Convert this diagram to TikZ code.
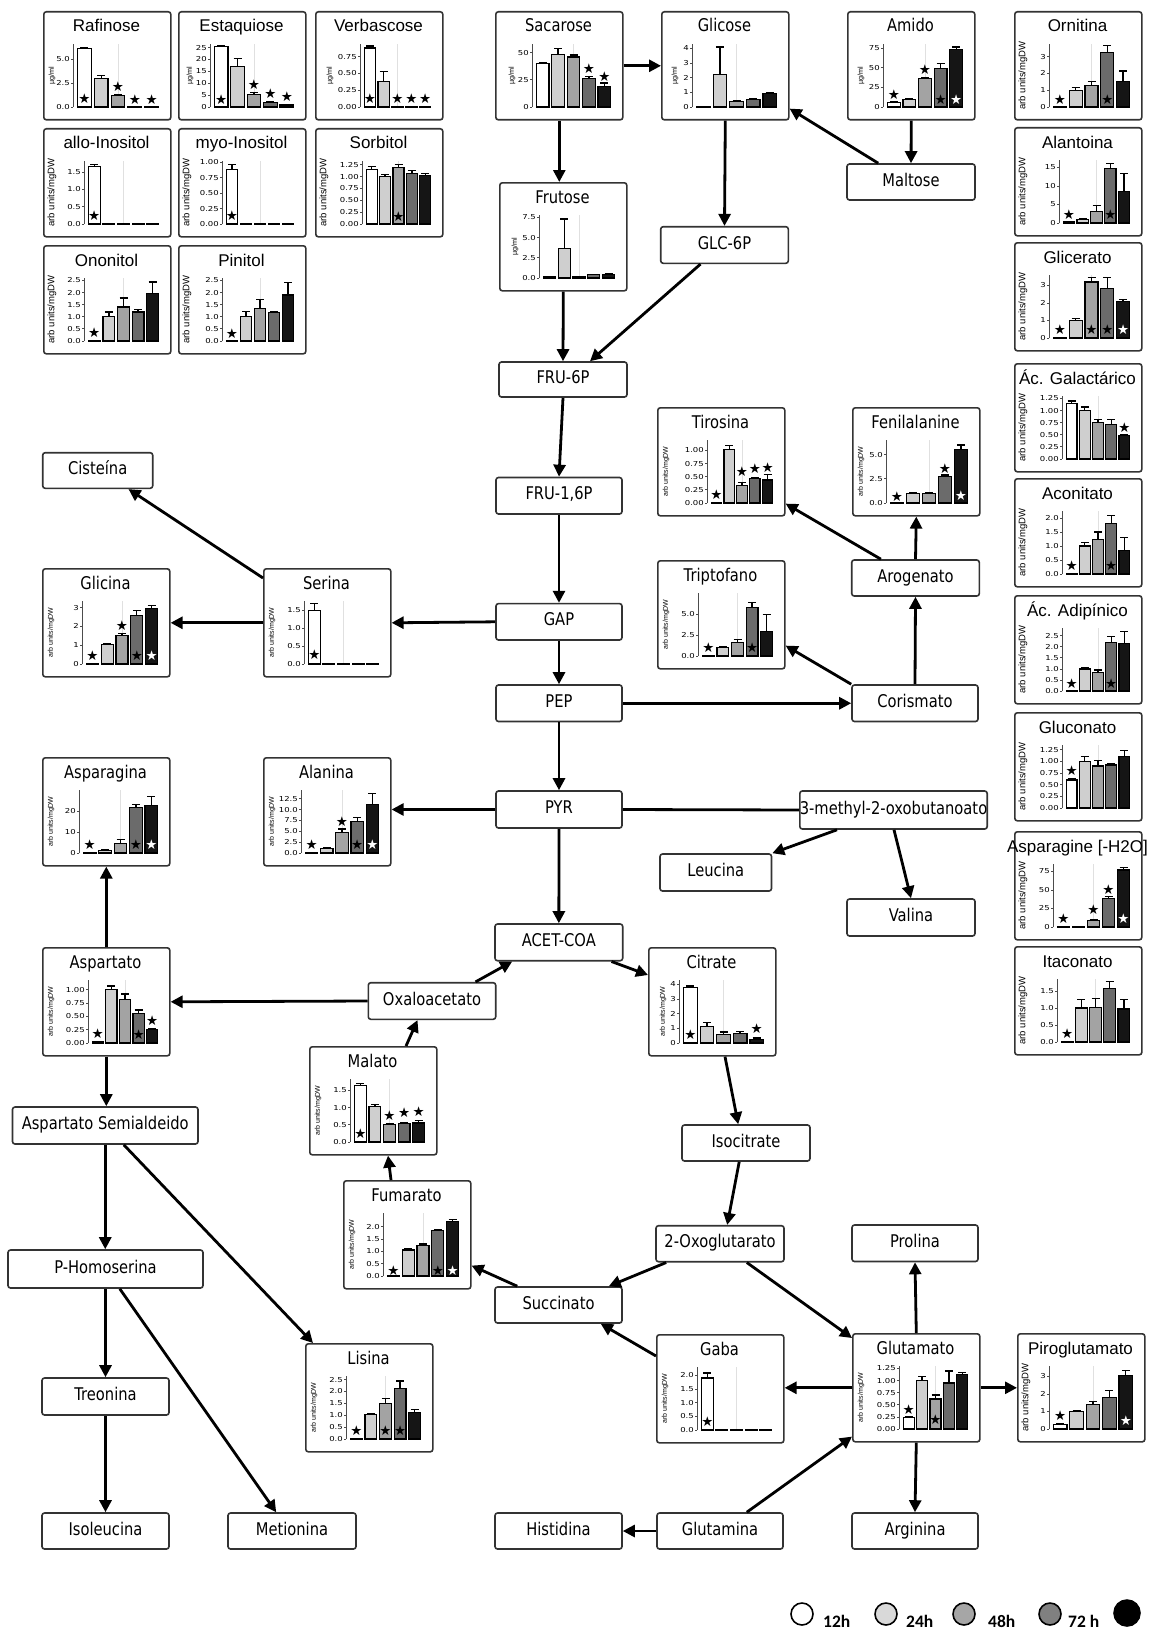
\documentclass[tikz,border=0pt]{standalone}
\usepackage{fontspec}
\setmainfont{Liberation Sans}
\newfontfamily\tahf[FakeStretch=0.84]{DejaVu Sans}
\newfontfamily\arf{Liberation Sans}
\newfontfamily\tickf[FakeStretch=1.25]{DejaVu Sans}
\newfontfamily\starf{DejaVu Sans}
\newfontfamily\legf{Carlito}
\usetikzlibrary{arrows.meta}
\definecolor{bc1}{HTML}{FFFFFF}
\definecolor{bc2}{HTML}{CFCFCF}
\definecolor{bc3}{HTML}{A3A3A3}
\definecolor{bc4}{HTML}{6B6B6B}
\definecolor{bc5}{HTML}{151515}
\definecolor{boxc}{HTML}{333333}
\newcommand\TT{\tahf\fontsize{17.5}{18}\selectfont}
\newcommand\TA{\arf\fontsize{17}{18}\selectfont}
\newcommand\BT{\tahf\fontsize{17.5}{18}\selectfont}
\tikzset{
 cbox/.style={draw=boxc, line width=1.6pt, rounded corners=2.5pt, fill=white, minimum width=127pt, minimum height=108pt, inner sep=0pt},
 pbox/.style={draw=boxc, line width=1.6pt, rounded corners=2.5pt, fill=white, inner sep=0pt, font=\BT, text height=13pt, text depth=5pt},
 arr/.style={line width=2.8pt, -{Triangle[length=12pt,width=12pt]}},
 plainl/.style={line width=2.8pt},
 gridl/.style={draw=black!12, line width=0.6pt},
 axisl/.style={draw=black!70, line width=0.8pt},
 barl/.style={draw=black, line width=1.2pt},
 errl/.style={draw=black, line width=1.3pt},
 tickn/.style={anchor=east, inner sep=0pt, font=\tickf\fontsize{6.8}{7}\selectfont},
 starn/.style={inner sep=0pt, font=\starf\fontsize{13.5}{13.5}\selectfont},
 ylab/.style={inner sep=0pt, rotate=90},
 titn/.style={anchor=base, inner sep=0pt},
 legc/.style={circle, draw=black, line width=1.6pt, minimum size=22pt, inner sep=0pt},
 legt/.style={anchor=base west, inner sep=0pt, font=\legf\bfseries\fontsize{17.5}{18}\selectfont},
}
\pgfkeys{/ch/a/.store in=\chA, /ch/yl/.store in=\chYL, /ch/yx/.store in=\chYX, /ch/ys/.store in=\chYS, /ch/tf/.store in=\chTF}
\newcommand\chart[9][]{%
\begingroup
\pgfkeys{/ch/.cd,a=40,yl={arb units/mgDW},yx=9,ys=9.5,tf=\TT,#1}%
\node[cbox,anchor=north west] (#2) at (#3,#4) {};
\pgfmathsetmacro\cXa{#3+\chA}%
\pgfmathsetmacro\cYb{#4+96}%
\pgfmathsetmacro\cSc{63/#6}%
\pgfmathsetmacro\cPp{(114-\chA)/5}%
\pgfmathsetmacro\cBx{\cXa+3}%
\draw[gridl] ({\cBx+2.5*\cPp},\cYb) -- ({\cBx+2.5*\cPp},{\cYb-63});
\draw[axisl] (\cXa,\cYb) -- (\cXa,{\cYb-63});
\foreach \tval/\tlab [count=\tk] in {#7} {%
 \draw[axisl] (\cXa,{\cYb-\tval*\cSc}) -- ++(-2,0);
 \node[tickn] (#2-tk\tk) at ({\cXa-3},{\cYb-\tval*\cSc}) {\tlab};}
\foreach \cBv/\cBe [count=\cBi] in {#8} {%
 \pgfmathsetmacro\cBl{\cBx+(\cBi-1)*\cPp+0.09*\cPp}%
 \pgfmathsetmacro\cBr{\cBl+0.82*\cPp}%
 \pgfmathsetmacro\cBt{\cYb-\cBv*\cSc}%
 \pgfmathsetmacro\cBc{\cBl+0.41*\cPp}%
 \edef\cFill{bc\cBi}%
 \ifdim\cBe pt>0pt
  \pgfmathsetmacro\cEt{\cBt-\cBe*\cSc}%
  \draw[errl] (\cBc,\cBt) -- (\cBc,\cEt) ({\cBc-4},\cEt) -- ({\cBc+4},\cEt);
 \fi
 \draw[barl,fill=\cFill] (\cBl,\cYb) rectangle (\cBr,\cBt);}
\def\cStars{#9}%
\ifx\cStars\empty\else
\foreach \cSi/\cSv/\cScol in {#9} {%
 \node[starn,text=\cScol] (#2-s\cSi) at ({\cBx+(\cSi-0.5)*\cPp},{\cYb-\cSv*\cSc}) {★};}
\fi
\node[ylab,font=\arf\fontsize{\chYS}{\chYS}\selectfont] (#2-yl) at ({#3+\chYX},{\cYb-31.5}) {\chYL};
\node[titn,font=\chTF] (#2-ti) at ({#3+63.5},{#4+21}) {#5};
\endgroup}
\newcommand\pb[6]{\node[pbox, minimum width={#4-#2}, minimum height={#5-#3}] (#1) at ({(#2+#4)/2},{(#3+#5)/2}) {#6};}
\begin{document}
\begin{tikzpicture}[x=1pt,y=-1pt]
\useasboundingbox (0,0) rectangle (1150,1635);
\fill[white] (0,0) rectangle (1150,1635);
% ---- top-left charts
\chart[a=30,yl=µg/ml,yx=9,ys=7.2,tf=\TA]{raf}{43}{11}{Rafinose}{6.6}{0/0.0,2.5/2.5,5/5.0}{6.1/.1,3.0/.3,1.2/.1,.05/0,.05/0}{1/.9/black,3/2.1/black,4/.75/black,5/.75/black}
\chart[a=32,yl=µg/ml,yx=12,ys=7.2,tf=\TA]{est}{178}{11}{Estaquiose}{26.5}{0/0,5/5,10/10,15/15,20/20,25/25}{25.5/.4,17/3.5,5.2/.8,2.0/.2,.8/.2}{1/3.3/black,3/9.2/black,4/5.6/black,5/4.2/black}
\chart[a=45,yl=µg/ml,yx=15,ys=7.2,tf=\TA]{ver}{315}{11}{Verbascose}{.94}{0/0.00,.25/0.25,.5/0.50,.75/0.75}{.88/.03,.38/.15,.01/0,.01/0,.01/0}{1/.12/black,3/.12/black,4/.12/black,5/.12/black}
\chart[a=41,tf=\TA]{allo}{43}{128}{allo-Inositol}{1.82}{0/0.0,.5/0.5,1/1.0,1.5/1.5}{1.65/.07,.01/0,.01/0,.01/0,.01/0}{1/.25/black}
\chart[a=44,tf=\TA]{myo}{178}{128}{myo-Inositol}{1.02}{0/0.00,.25/0.25,.5/0.50,.75/0.75,1/1.00}{.88/.08,.01/0,.01/0,.01/0,.01/0}{1/.13/black}
\chart[a=47,tf=\TA]{sor}{315}{128}{Sorbitol}{1.33}{0/0.00,.25/0.25,.5/0.50,.75/0.75,1/1.00,1.25/1.25}{1.15/.07,1.0/.05,1.2/.06,1.06/.07,1.02/.05}{3/.15/black}
\chart[a=41,tf=\TA]{ono}{43}{245}{Ononitol}{2.6}{0/0.0,.5/0.5,1/1.0,1.5/1.5,2/2.0,2.5/2.5}{.02/0,1.0/.2,1.4/.38,1.2/.1,1.95/.48}{1/.35/black}
\chart[a=44,tf=\TA]{pin}{178}{245}{Pinitol}{2.6}{0/0.0,.5/0.5,1/1.0,1.5/1.5,2/2.0,2.5/2.5}{.02/0,1.02/.2,1.33/.38,1.17/.05,1.9/.5}{1/.32/black}
% ---- middle top
\chart[a=37,yl=µg/ml,yx=17,ys=7.2]{sac}{495}{11}{Sacarose}{58}{0/0,25/25,50/50}{40/1,48/6,46/2,26/2,19/3}{4/35/black,5/28/black}
\chart[a=31,yl=µg/ml,yx=14,ys=7.2]{glc}{661}{11}{Glicose}{4.3}{0/0,1/1,2/2,3/3,4/4}{.02/0,2.2/1.9,.35/.05,.5/.05,.9/.08}{}
\chart[a=36,yl=µg/ml,yx=14,ys=7.2]{ami}{847}{11}{Amido}{80}{0/0,25/25,50/50,75/75}{6/1,10/1,36/1.5,49/6,73/3}{1/16/black,3/47/black,4/9/black,5/9/white}
\chart[a=40,yl=µg/ml,yx=16,ys=7.2]{fru}{499}{182}{Frutose}{7.8}{0/0.0,2.5/2.5,5/5.0,7.5/7.5}{.2/0,3.7/3.6,.2/0,.4/.05,.45/.05}{}
% ---- right column
\chart[a=35,tf=\TA]{orn}{1014}{11}{Ornitina}{3.75}{0/0,1/1,2/2,3/3}{.02/0,1.0/.15,1.3/.2,3.25/.4,1.5/.65}{1/.45/black,4/.45/black}
\chart[a=45,tf=\TA]{alt}{1014}{127}{Alantoina}{17}{0/0,5/5,10/10,15/15}{.3/0,1.0/.2,3.0/1.8,14.7/1.3,8.5/4.8}{1/2.2/black,4/2.2/black}
\chart[a=35,tf=\TA]{glic}{1014}{242}{Glicerato}{3.6}{0/0,1/1,2/2,3/3}{.02/0,1.0/.12,3.2/.25,2.85/.6,2.1/.12}{1/.5/black,3/.5/black,4/.5/black,5/.5/white}
\chart[a=48,tf=\TA]{gal}{1014}{363}{Ác. Galactárico}{1.3}{0/0.00,.25/0.25,.5/0.50,.75/0.75,1/1.00,1.25/1.25}{1.15/.05,1.0/.07,.75/.06,.72/.1,.49/.02}{5/.65/black}
\chart[a=48,tf=\TA]{aco}{1014}{478}{Aconitato}{2.25}{0/0.0,.5/0.5,1/1.0,1.5/1.5,2/2.0}{.02/0,1.0/.12,1.22/.28,1.8/.28,.85/.45}{1/.3/black,4/.3/black}
\chart[a=48,tf=\TA]{adi}{1014}{595}{Ác. Adipínico}{2.85}{0/0.0,.5/0.5,1/1.0,1.5/1.5,2/2.0,2.5/2.5}{.02/0,1.0/.06,.85/.1,2.2/.25,2.15/.55}{1/.35/black,4/.35/black}
\chart[a=48,tf=\TA]{gcn}{1014}{712}{Gluconato}{1.35}{0/0.00,.25/0.25,.5/0.50,.75/0.75,1/1.00,1.25/1.25}{.6/.02,1.0/.1,.9/.12,.92/.03,1.1/.13}{1/.8/black}
\chart[a=39,tf=\TA]{ash}{1014}{831}{Asparagine [-H2O]}{85}{0/0,25/25,50/50,75/75}{.5/0,.5/0,9/1,39/2,77/3}{1/11/black,3/23/black,4/50/black,5/11/white}
\chart[a=43,tf=\TA]{ita}{1014}{946}{Itaconato}{1.85}{0/0.0,.5/0.5,1/1.0,1.5/1.5}{.02/0,1.0/.25,1.02/.25,1.57/.2,.97/.28}{1/.25/black}
% ---- middle charts
\chart[a=50,ys=7]{tir}{657}{407}{Tirosina}{1.2}{0/0.00,.25/0.25,.5/0.50,.75/0.75,1/1.00}{.01/0,1.02/.08,.33/.06,.47/.02,.44/.1}{1/.15/black,3/.6/black,4/.65/black,5/.68/black}
\chart[a=34,ys=7]{fen}{852}{407}{Fenilalanine}{6.5}{0/0.0,2.5/2.5,5/5.0}{.05/0,1.0/.05,1.0/.05,2.7/.2,5.5/.5}{1/.7/black,4/3.5/black,5/.8/white}
\chart[a=41,ys=7]{tri}{657}{560}{Triptofano}{7.5}{0/0.0,2.5/2.5,5/5.0}{.05/0,1.05/.1,1.6/.4,5.8/.6,2.9/2.0}{1/1.0/black,4/1.0/black}
\chart[a=40,ys=7]{gly}{42}{568}{Glicina}{3.35}{0/0,1/1,2/2,3/3}{.02/0,1.05/.04,1.5/.12,2.6/.25,2.95/.15}{1/.45/black,3/2.05/black,4/.45/black,5/.45/white}
\chart[a=41,ys=7]{ser}{263}{568}{Serina}{1.75}{0/0.0,.5/0.5,1/1.0,1.5/1.5}{1.48/.2,.01/0,.01/0,.01/0,.01/0}{1/.25/black}
\chart[a=37,ys=7]{asg}{42}{757}{Asparagina}{30}{0/0,10/10,20/20}{.2/0,1.3/.3,4.5/2,21.5/1.5,22.5/4.5}{1/4/black,4/4/black,5/4/white}
\chart[a=38,ys=7]{ala}{263}{757}{Alanina}{14.5}{0/0.0,2.5/2.5,5/5.0,7.5/7.5,10/10.0,12.5/12.5}{.1/0,1.1/.2,4.7/.8,7.2/1,11.2/2.5}{1/2/black,3/7.3/black,4/2/black,5/2/white}
\chart[a=46,ys=7]{asp}{42}{947}{Aspartato}{1.18}{0/0.00,.25/0.25,.5/0.50,.75/0.75,1/1.00}{.03/0,1.0/.07,.82/.1,.56/.06,.25/.01}{1/.18/black,4/.15/black,5/.42/black}
\chart[a=31,yx=15,ys=7]{cit}{648}{947}{Citrate}{4.3}{0/0,1/1,2/2,3/3,4/4}{3.8/.1,1.1/.3,.6/.15,.65/.15,.25/.1}{1/.6/black,5/.95/black}
\chart[a=41,ys=7]{mala}{309}{1046}{Malato}{1.83}{0/0.0,.5/0.5,1/1.0,1.5/1.5}{1.65/.05,1.02/.07,.5/.02,.53/.02,.55/.07}{1/.25/black,3/.77/black,4/.85/black,5/.88/black}
\chart[a=40,ys=7]{fum}{343}{1180}{Fumarato}{2.55}{0/0.0,.5/0.5,1/1.0,1.5/1.5,2/2.0}{.01/0,1.05/.05,1.22/.08,1.85/.04,2.2/.1}{1/.2/black,4/.2/black,5/.2/white}
\chart[a=41,ys=7]{lis}{305}{1343}{Lisina}{2.65}{0/0.0,.5/0.5,1/1.0,1.5/1.5,2/2.0,2.5/2.5}{.02/0,1.02/.06,1.5/.2,2.12/.32,1.1/.15}{1/.35/black,3/.35/black,4/.35/black}
\chart[a=41,ys=7]{gab}{656}{1334}{Gaba}{2.3}{0/0.0,.5/0.5,1/1.0,1.5/1.5,2/2.0}{1.9/.18,.01/0,.01/0,.01/0,.01/0}{1/.3/black}
\chart[a=47,ys=7]{glu}{852}{1333}{Glutamato}{1.3}{0/0.00,.25/0.25,.5/0.50,.75/0.75,1/1.00,1.25/1.25}{.23/.02,1.0/.08,.62/.08,.95/.25,1.12/.05}{1/.4/black,3/.2/black}
\chart[a=32,tf=\TA]{pir}{1017}{1333}{Piroglutamato}{3.6}{0/0,1/1,2/2,3/3}{.25/.03,1.0/.05,1.42/.15,1.8/.4,3.05/.3}{1/.75/black,5/.45/white}
% ---- plain boxes
\pb{cis}{42.7}{452.7}{152.7}{488.3}{Cisteína}
\pb{malt}{847}{164}{975}{200}{Maltose}
\pb{g6p}{660.7}{226.7}{788.3}{263.3}{GLC-6P}
\pb{f6p}{499}{362}{627}{397}{FRU-6P}
\pb{f16p}{496}{477.5}{622}{514}{FRU-1,6P}
\pb{gap}{496}{603.6}{622}{640}{GAP}
\pb{pep}{496}{685}{622}{721.5}{PEP}
\pb{pyr}{496}{791}{622}{828}{PYR}
\pb{acc}{495}{924}{622.7}{960.7}{ACET-COA}
\pb{oxa}{368.3}{982.7}{495.7}{1019.3}{Oxaloacetato}
\pb{iso}{682}{1125}{810}{1161}{Isocitrate}
\pb{oxg}{656}{1225.7}{784}{1261.7}{2-Oxoglutarato}
\pb{suc}{495}{1287}{622}{1323}{Succinato}
\pb{pro}{852}{1225}{978}{1261.5}{Prolina}
\pb{gln}{657}{1513}{783}{1549}{Glutamina}
\pb{his}{495}{1513}{622}{1549}{Histidina}
\pb{arg}{852}{1513}{978}{1549}{Arginina}
\pb{ile}{42}{1513}{169}{1549}{Isoleucina}
\pb{met}{228}{1513}{356}{1549}{Metionina}
\pb{tre}{42}{1378}{169}{1415}{Treonina}
\pb{phs}{8}{1250}{203}{1288}{P-Homoserina}
\pb{asd}{12.5}{1107}{198}{1144}{Aspartato Semialdeido}
\pb{aro}{851.7}{560}{979.3}{596}{Arogenato}
\pb{cor}{852}{685}{978}{721.5}{Corismato}
\pb{m3}{801}{791}{986}{829}{3-methyl-2-oxobutanoato}
\pb{leu}{660}{854}{771.5}{891}{Leucina}
\pb{val}{847}{899}{975}{936}{Valina}
% ---- connectors
\draw[arr] (sac.east) -- (glc.west);
\draw[arr] (sac.south) -- (sac.south |- fru.north);
\draw[arr] (glc.south) -- (g6p.north);
\draw[arr] (ami.south) -- (malt.north);
\draw[arr] ([xshift=32pt]malt.north west) -- ([yshift=12pt]glc.south east);
\draw[arr] (fru.south) -- (f6p.north);
\draw[arr] ([xshift=-24pt]g6p.south) -- ([xshift=27pt]f6p.north);
\draw[arr] (f6p.south) -- (f16p.north);
\draw[arr] (f16p.south) -- (gap.north);
\draw[arr] (gap.west) -- (ser.east);
\draw[arr] (ser.west) -- (gly.east);
\draw[arr] ([yshift=-10pt]ser.north west) -- ([xshift=-25pt]cis.south east);
\draw[arr] (gap.south) -- (pep.north);
\draw[arr] (pep.east) -- (cor.west);
\draw[arr] (cor.north) -- (aro.south);
\draw[arr] (aro.north) -- (fen.south);
\draw[arr] ([xshift=30pt]aro.north west) -- ([yshift=13pt]tir.south east);
\draw[arr] (cor.north west) -- ([yshift=24pt]tri.south east);
\draw[arr] (pep.south) -- (pyr.north);
\draw[arr] (pyr.west) -- (pyr.west -| ala.east);
\draw[plainl] (pyr.east) -- (m3.west);
\draw[arr] ([xshift=38pt]m3.south west) -- (leu.north east);
\draw[arr] ([xshift=95pt]m3.south west) -- (val.north);
\draw[arr] (pyr.south) -- (acc.north);
\draw[arr] ([xshift=-12pt]acc.south east) -- ([yshift=-28pt]cit.north west);
\draw[arr] ([xshift=-21pt]oxa.north east) -- ([xshift=18pt]acc.south west);
\draw[arr] (oxa.west) -- (asp.east);
\draw[arr] ([xshift=97pt]mala.north west) -- ([xshift=50pt]oxa.south west);
\draw[arr] ([xshift=48pt]fum.north west) -- ([xshift=79pt]mala.south west);
\draw[arr] ([xshift=23pt]suc.north west) -- ([yshift=24pt]fum.south east);
\draw[arr] ([xshift=77pt]cit.south west) -- ([xshift=57pt]iso.north west);
\draw[arr] ([xshift=58pt]iso.south west) -- ([xshift=72pt]oxg.north west);
\draw[arr] ([xshift=11pt]oxg.south west) -- ([xshift=-14pt]suc.north east);
\draw[arr] ([xshift=-38pt]oxg.south east) -- ([yshift=-5pt]glu.north west);
\draw[arr] (glu.north) -- (pro.south);
\draw[arr] (glu.east) -- (pir.west);
\draw[arr] (glu.west) -- (glu.west -| gab.east);
\draw[arr] ([yshift=-22pt]gab.north west) -- ([xshift=-22pt]suc.south east);
\draw[arr] (glu.south) -- (arg.north);
\draw[arr] ([xshift=-37pt]gln.north east) -- ([yshift=6pt]glu.south west);
\draw[arr] (gln.west) -- (his.east);
\draw[arr] (asp.north) -- (asg.south);
\draw[arr] (asp.south) -- (asp.south |- asd.north);
\draw[arr] (asd.south) -- (asd.south |- phs.north);
\draw[arr] ([xshift=-75pt]asd.south east) -- ([xshift=8pt]lis.north west);
\draw[arr] (phs.south) -- (phs.south |- tre.north);
\draw[arr] ([xshift=-84pt]phs.south east) -- ([xshift=49pt]met.north west);
\draw[arr] (tre.south) -- (ile.north);
% ---- legend
\node[legc, fill=white] (lg1) at (802,1614) {};
\node[legt] (lt1) at (823,1627) {12h};
\node[legc, fill=black!15] (lg2) at (886,1614) {};
\node[legt] (lt2) at (906,1627) {24h};
\node[legc, fill=black!35] (lg3) at (964,1614) {};
\node[legt] (lt3) at (988,1627) {48h};
\node[legc, fill=black!50] (lg4) at (1050,1614) {};
\node[legt] (lt4) at (1068,1627) {72 h};
\node[legc, fill=black, minimum size=26pt] (lg5) at (1127,1613) {};
\end{tikzpicture}
\end{document}
